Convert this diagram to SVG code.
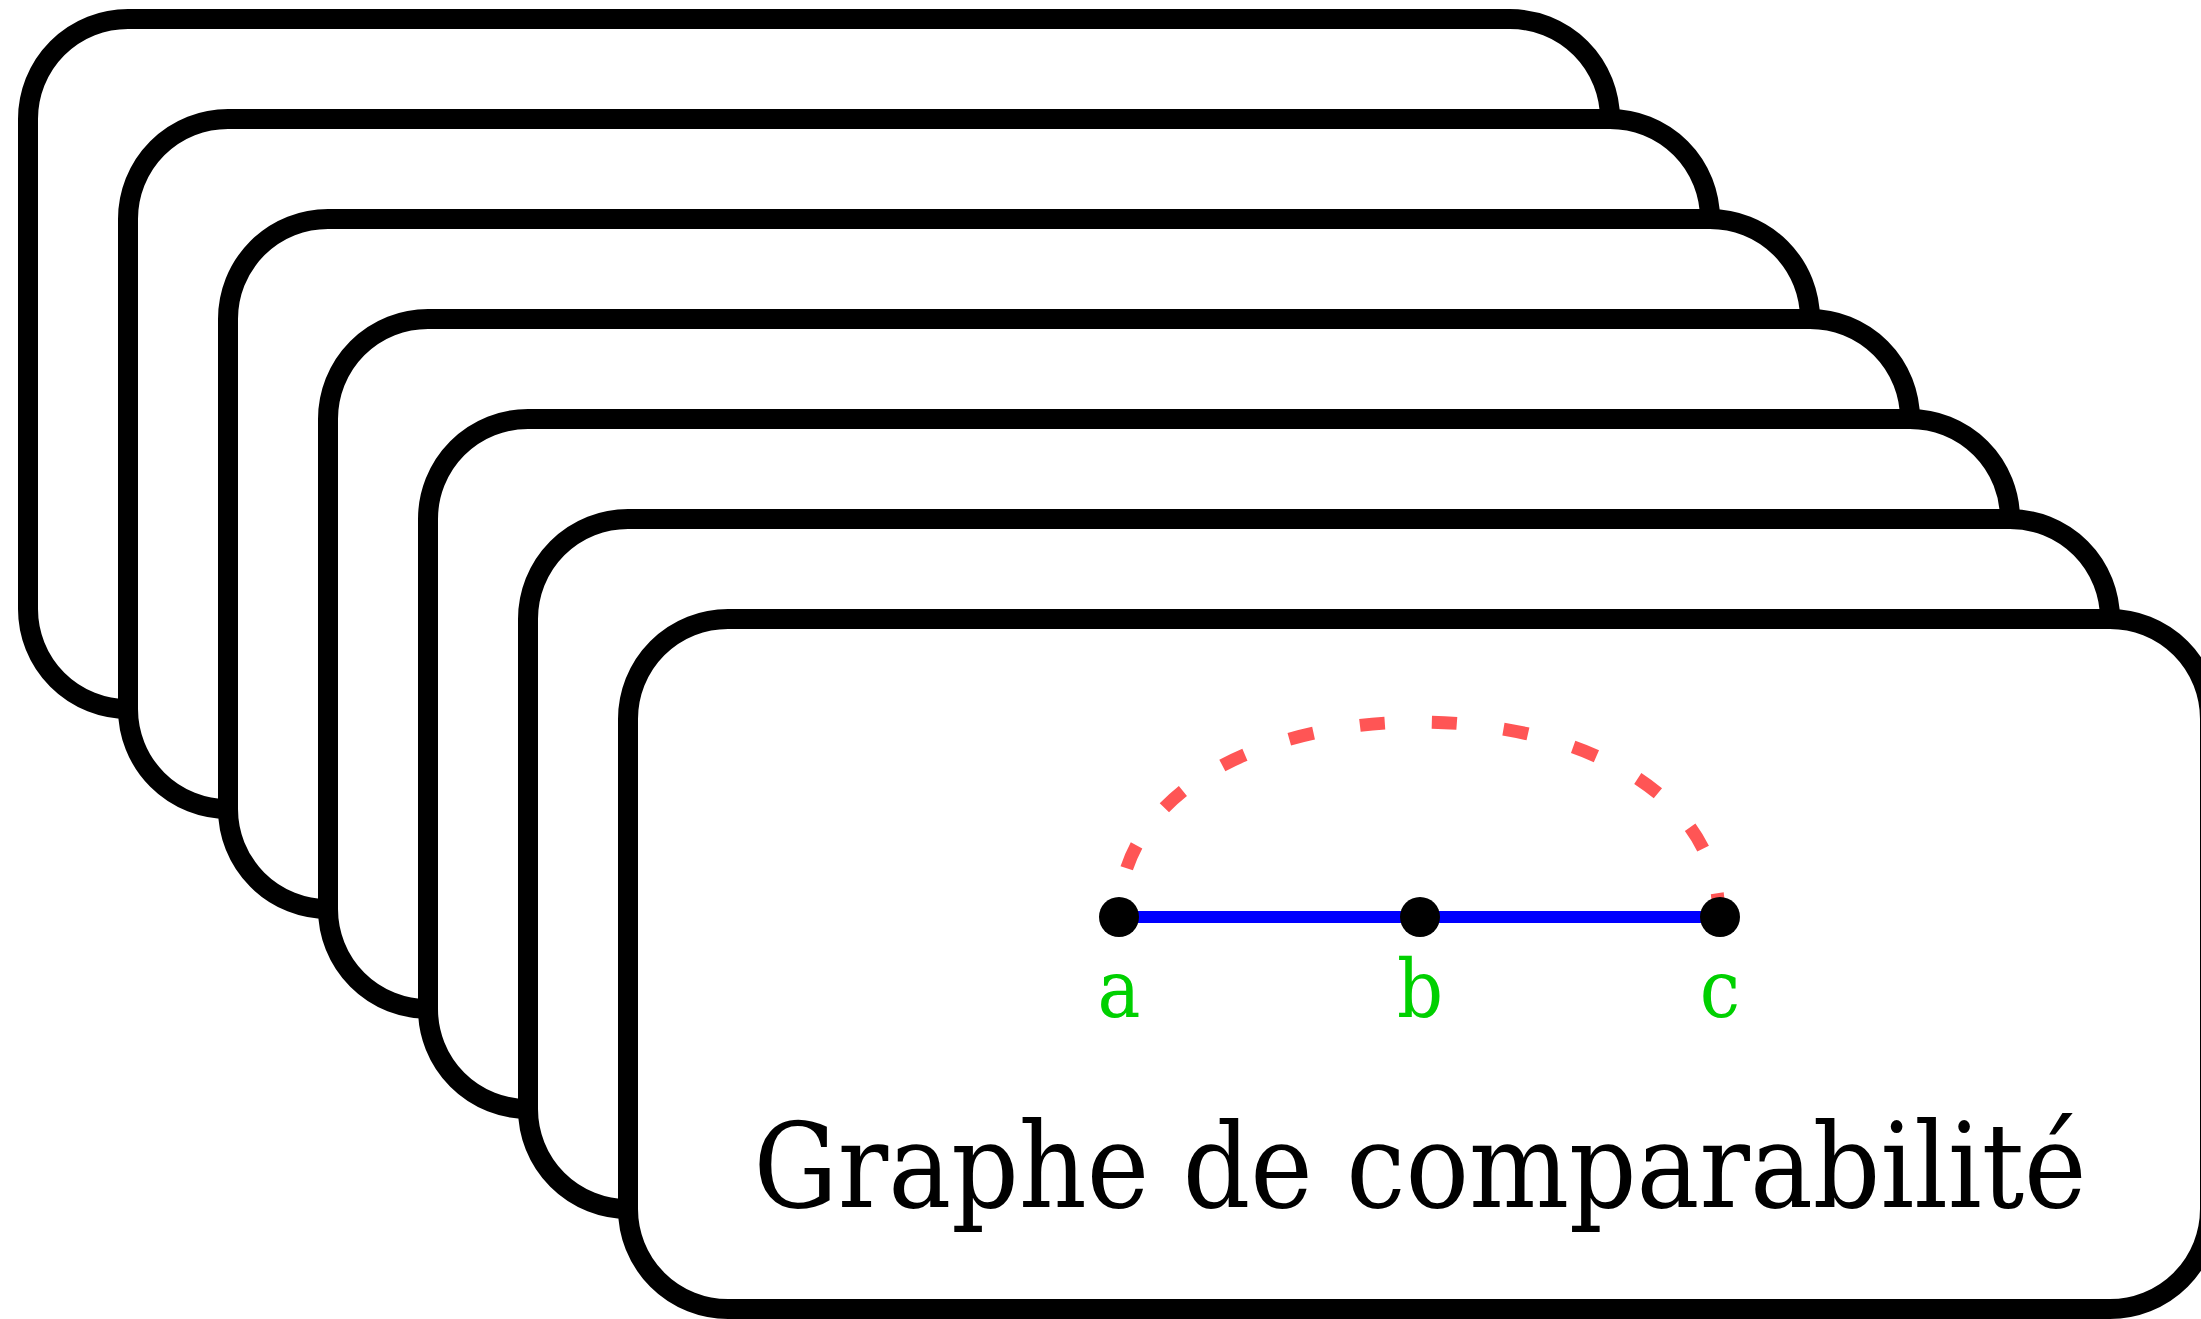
<svg xmlns="http://www.w3.org/2000/svg" width="2201" height="1319" viewBox="0 0 2201 1319">
  <style>
    .card { fill: #ffffff; stroke: #000000; stroke-width: 20; }
    .edge { stroke: #0000ff; stroke-width: 12; fill: none; }
    .comp { stroke: #ff5555; stroke-width: 13; fill: none; stroke-dasharray: 25 47; stroke-dashoffset: 22.5; }
    .node { fill: #000000; }
    .lbl { font-family: "DejaVu Serif Condensed", "DejaVu Serif", serif; font-size: 80px; fill: #00d000; text-anchor: middle; }
    .title { font-family: "DejaVu Serif Condensed", "DejaVu Serif", serif; font-size: 118px; fill: #000000; text-anchor: middle; }
  </style>
  <rect width="2201" height="1319" fill="#ffffff"/>
  <g id="card1"><rect class="card" x="28" y="19" width="1582" height="690" rx="100" ry="100"/></g>
  <g id="card2"><rect class="card" x="128" y="119" width="1582" height="690" rx="100" ry="100"/></g>
  <g id="card3"><rect class="card" x="228" y="219" width="1582" height="690" rx="100" ry="100"/></g>
  <g id="card4"><rect class="card" x="328" y="319" width="1582" height="690" rx="100" ry="100"/></g>
  <g id="card5"><rect class="card" x="428" y="419" width="1582" height="690" rx="100" ry="100"/></g>
  <g id="card6"><rect class="card" x="528" y="519" width="1582" height="690" rx="100" ry="100"/></g>
  <g id="card7">
    <rect class="card" x="628" y="619" width="1582" height="690" rx="100" ry="100"/>
    <text class="title" x="1420" y="1207" textLength="1333" lengthAdjust="spacingAndGlyphs">Graphe de comparabilité</text>
  </g>
  <g id="connectors">
    <path class="comp" d="M1119,917 C1119,657 1719,657 1719,917"/>
    <line class="edge" x1="1119" y1="917" x2="1420" y2="917"/>
    <line class="edge" x1="1420" y1="917" x2="1720" y2="917"/>
  </g>
  <g id="node-a">
    <circle class="node" cx="1119" cy="917" r="20"/>
    <text class="lbl" x="1119" y="1017">a</text>
  </g>
  <g id="node-b">
    <circle class="node" cx="1420" cy="917" r="20"/>
    <text class="lbl" x="1420" y="1017">b</text>
  </g>
  <g id="node-c">
    <circle class="node" cx="1720" cy="917" r="20"/>
    <text class="lbl" x="1720" y="1017">c</text>
  </g>
</svg>
